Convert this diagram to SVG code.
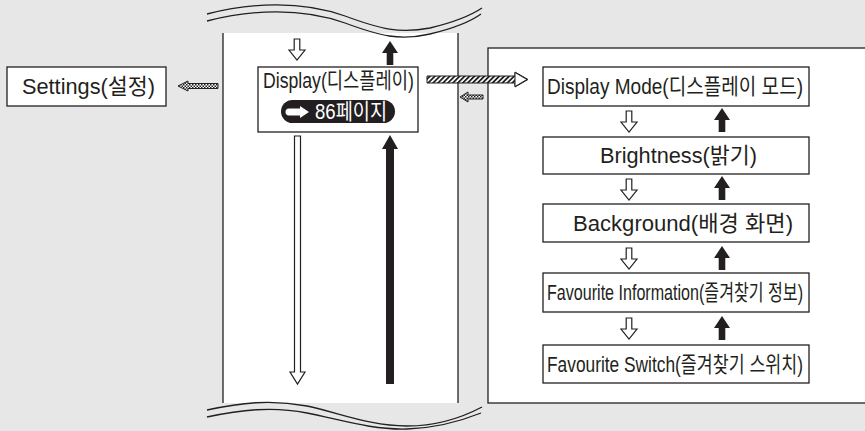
<svg xmlns="http://www.w3.org/2000/svg" width="865" height="431" viewBox="0 0 865 431">
<style>
.bg{fill:#e7e7e8}
.box{fill:#fff;stroke:#231f20;stroke-width:1.3}
.t{font-family:"Liberation Sans","Noto Sans CJK KR",sans-serif;font-size:22px;fill:#231f20}
.wave{fill:none;stroke:#231f20;stroke-width:1.3}
.edge{stroke:#231f20;stroke-width:1.3}
.odn{fill:#fff;stroke:#231f20;stroke-width:1.2;stroke-linejoin:miter}
.sup{fill:#231f20}
</style>
<defs>
<pattern id="hatch" width="3.5" height="3.5" patternUnits="userSpaceOnUse" patternTransform="rotate(45)">
<rect width="3.5" height="3.5" fill="#fff"/>
<rect width="1.8" height="3.5" fill="#231f20"/>
</pattern>
<pattern id="check" width="3" height="3" patternUnits="userSpaceOnUse">
<rect width="3" height="3" fill="#fff"/>
<rect width="1.5" height="1.5" fill="#231f20"/>
<rect x="1.5" y="1.5" width="1.5" height="1.5" fill="#231f20"/>
</pattern>
<path id="odown" d="M-2.8,0 H2.8 V11 H8 L0,21 L-8,11 H-2.8 Z"/>
<path id="sup" d="M0,0 L8,12 H3.3 V24 H-3.3 V12 H-8 Z"/>
</defs>
<rect class="bg" x="0" y="0" width="865" height="431"/>
<!-- central column -->
<rect x="223" y="33" width="235" height="370" fill="#fff"/>
<line class="edge" x1="223" y1="33" x2="223" y2="403"/>
<line class="edge" x1="458" y1="33" x2="458" y2="403"/>
<!-- right panel -->
<rect class="box" x="488" y="48" width="400" height="355"/>
<!-- waves -->
<path class="wave" d="M207,14 C250,3 300,0 345,16 C380,29 400,34 430,28 C455,22 470,16 482,8"/>
<path class="wave" d="M207,21 C250,10 300,7 345,23 C380,36 400,41 430,34 C455,28 470,22 481,14"/>
<path class="wave" d="M207,410 C240,403 270,399 307,406 C340,413 370,426 407,426 C440,426 465,416 482,407"/>
<path class="wave" d="M207,417 C240,410 272,406 307,413 C342,420 372,430 407,429 C440,428 466,419 481,413"/>

<g id="settings">
<rect class="box" x="7" y="67" width="159" height="39"/>
<text class="t" x="22" y="94" textLength="133" lengthAdjust="spacingAndGlyphs">Settings(설정)</text>
</g>
<g id="display">
<rect class="box" x="258" y="67" width="160" height="65"/>
<text class="t" x="263" y="88" font-size="20" textLength="151" lengthAdjust="spacingAndGlyphs">Display(디스플레이)</text>
<rect x="281" y="100" width="114" height="23" rx="11.5" fill="#231f20"/>
<path d="M289,108.5 H300 V106 L309,112 L300,118 V115.5 H289 A3.5,3.5 0 0 1 289,108.5 Z" fill="#fff"/>
<text class="t" x="315" y="118.5" font-size="18" style="fill:#fff" textLength="72" lengthAdjust="spacingAndGlyphs">86페이지</text>
</g>
<g id="display-mode">
<rect class="box" x="543" y="67" width="266" height="39"/>
<text class="t" x="547" y="94" textLength="256" lengthAdjust="spacingAndGlyphs">Display Mode(디스플레이 모드)</text>
</g>
<g id="brightness">
<rect class="box" x="543" y="137" width="266" height="37"/>
<text class="t" x="600" y="163" textLength="157" lengthAdjust="spacingAndGlyphs">Brightness(밝기)</text>
</g>
<g id="background">
<rect class="box" x="543" y="204" width="266" height="38"/>
<text class="t" x="573" y="231" textLength="220" lengthAdjust="spacingAndGlyphs">Background(배경 화면)</text>
</g>
<g id="fav-info">
<rect class="box" x="543" y="273" width="266" height="39"/>
<text class="t" x="547" y="300" font-size="21" textLength="256" lengthAdjust="spacingAndGlyphs">Favourite Information(즐겨찾기 정보)</text>
</g>
<g id="fav-switch">
<rect class="box" x="543" y="345" width="266" height="38"/>
<text class="t" x="547" y="372" font-size="21" textLength="256" lengthAdjust="spacingAndGlyphs">Favourite Switch(즐겨찾기 스위치)</text>
</g>

<g id="connectors">
<!-- center column top -->
<use href="#odown" class="odn" x="297" y="39"/>
<use href="#sup" class="sup" x="390" y="41"/>
<!-- long arrows -->
<path class="odn" d="M294.5,136 H300.5 V372 H305 L297.5,384 L290,372 H294.5 Z"/>
<path class="sup" d="M390,135 L398,149 H394 V384 H386 V149 H382 Z"/>
<!-- right panel -->
<use href="#odown" class="odn" x="629" y="111"/>
<use href="#sup" class="sup" x="722" y="108"/>
<use href="#odown" class="odn" x="629" y="179"/>
<use href="#sup" class="sup" x="722" y="176"/>
<use href="#odown" class="odn" x="629" y="248"/>
<use href="#sup" class="sup" x="722" y="246"/>
<use href="#odown" class="odn" x="629" y="318"/>
<use href="#sup" class="sup" x="722" y="316"/>
<!-- hatched arrows -->
<path d="M427,76 H515 V72 L528,79.5 L515,87 V83 H427 Z" fill="url(#hatch)" stroke="#231f20" stroke-width="1"/>
<path d="M515,72.5 L527,79.5 L515,86.5 Z" fill="#fff" stroke="#231f20" stroke-width="1"/>
<path d="M178,86 L188,81 V83.5 H218 V88.5 H188 V91 Z" fill="url(#check)" stroke="#231f20" stroke-width="1"/>
<path d="M460,97 L468,92 V95 H483 V99 H468 V102 Z" fill="url(#check)" stroke="#231f20" stroke-width="1"/>
</g>
</svg>
